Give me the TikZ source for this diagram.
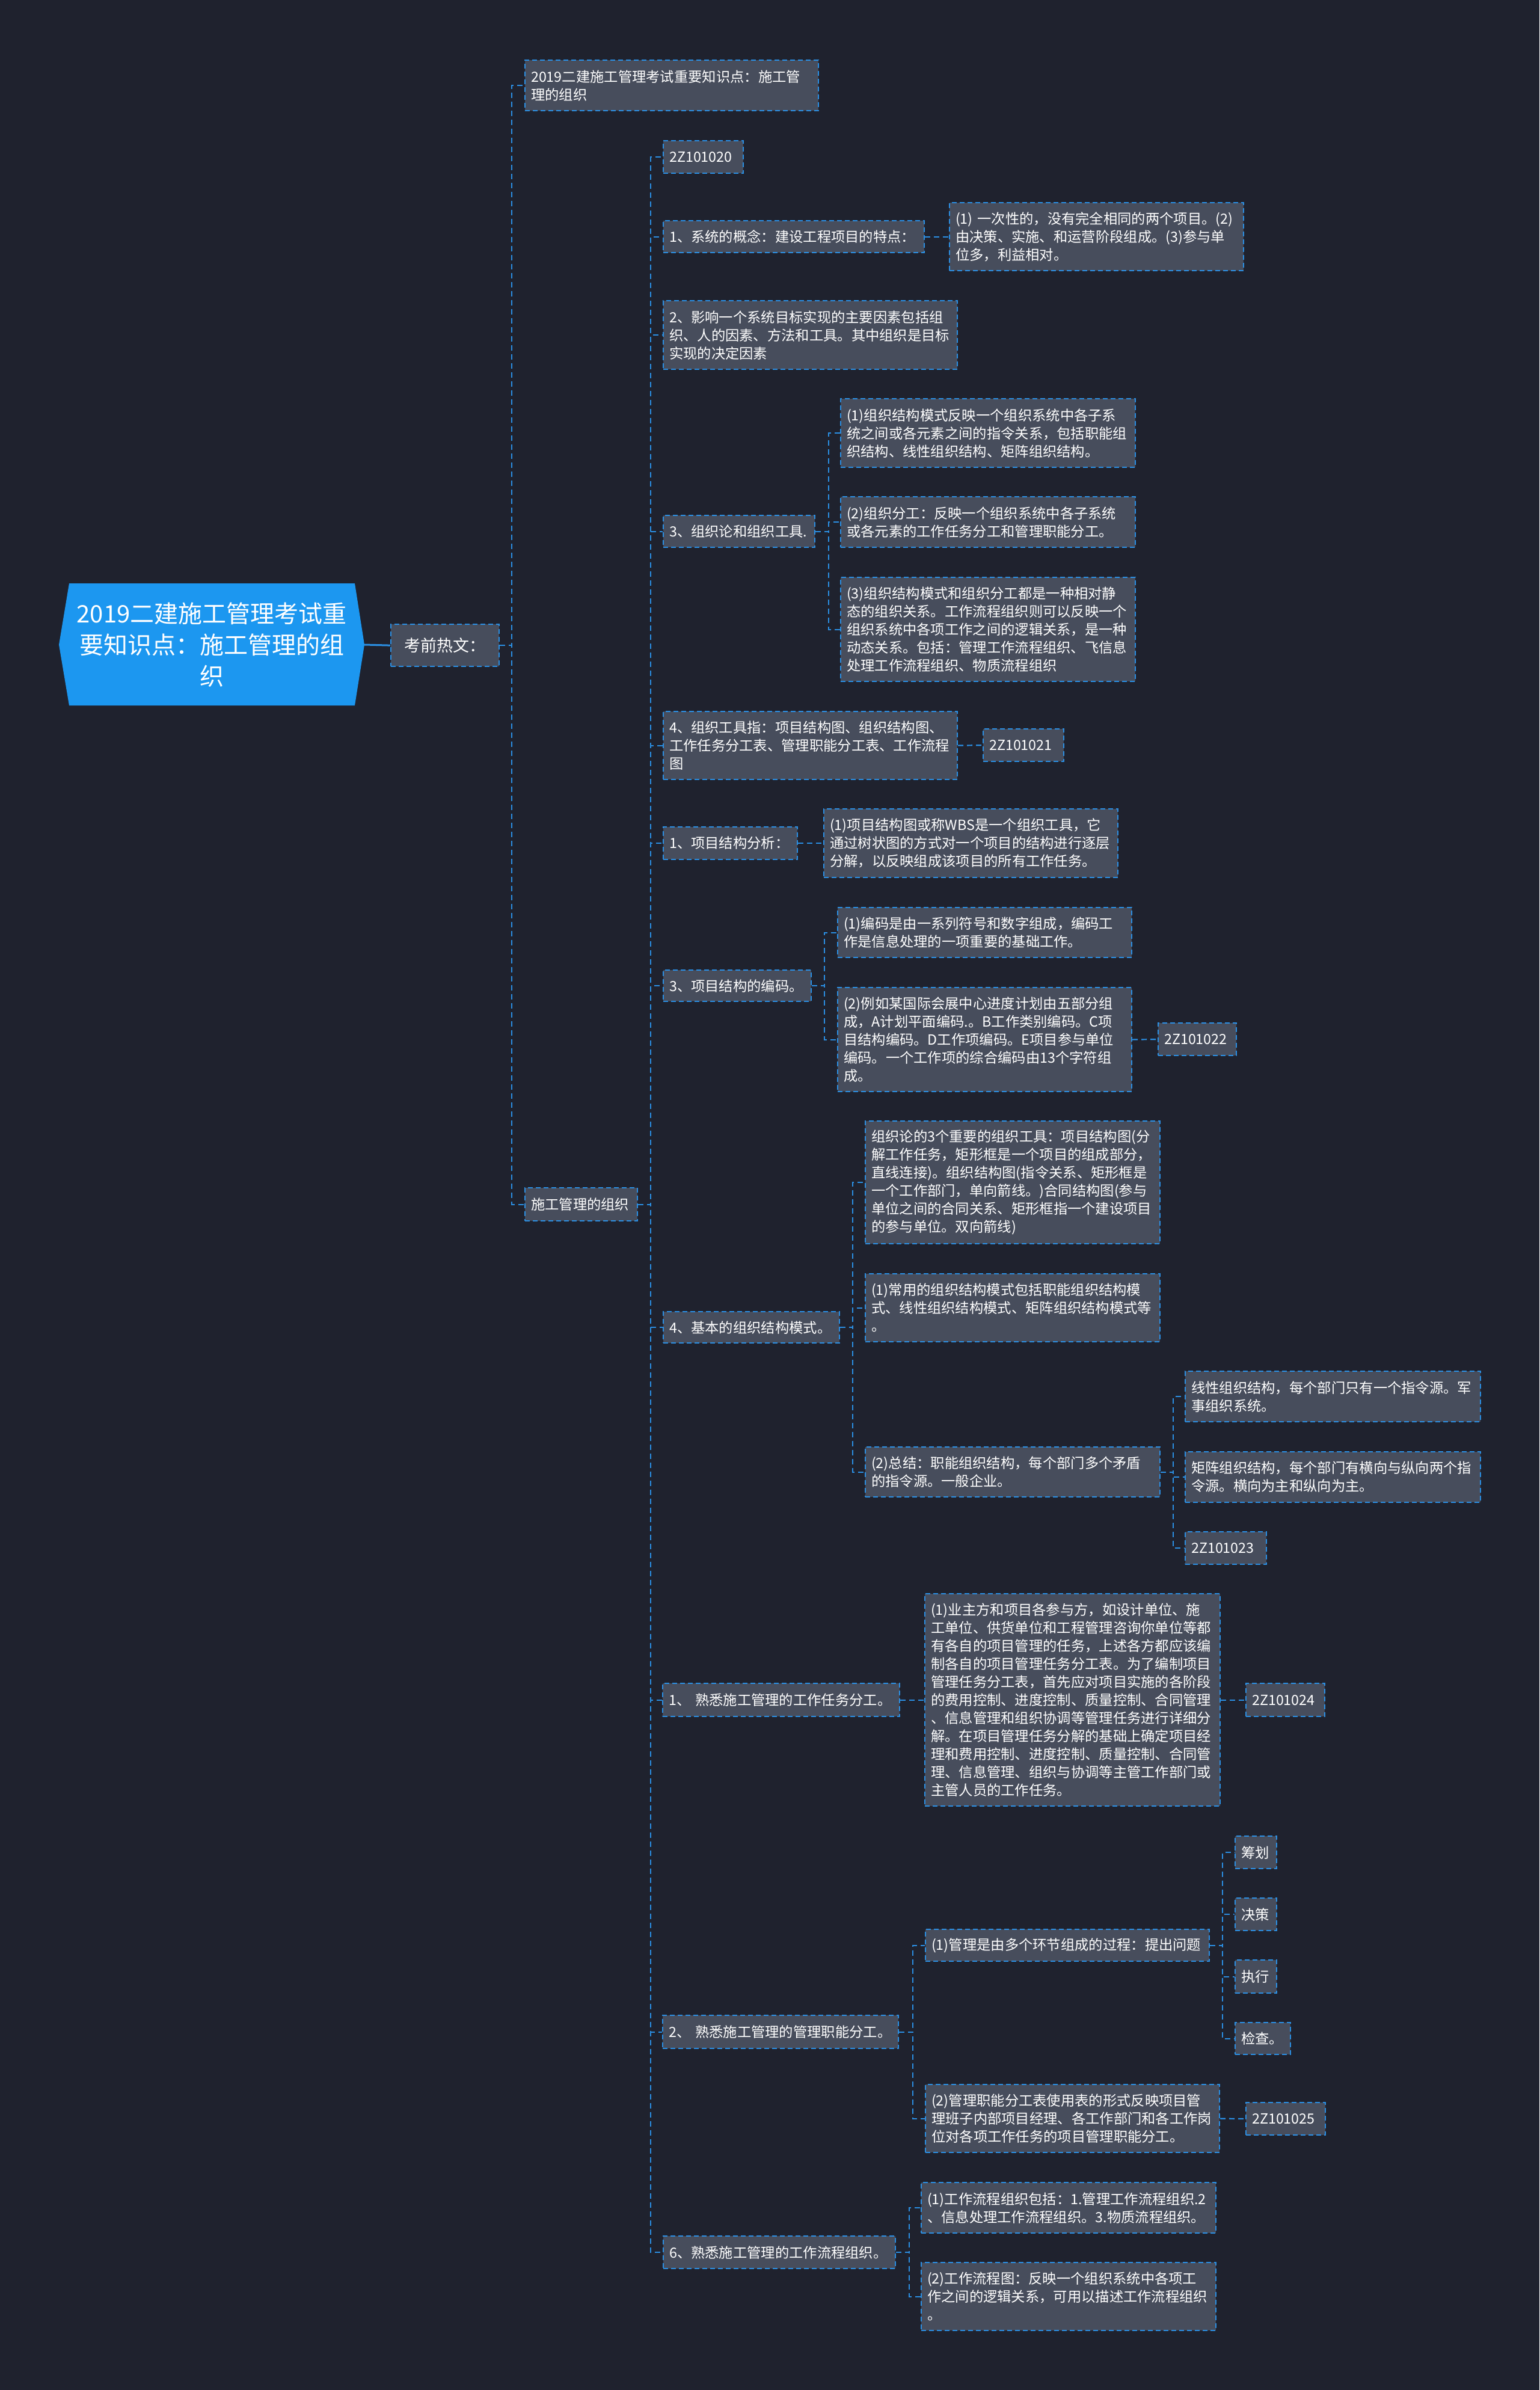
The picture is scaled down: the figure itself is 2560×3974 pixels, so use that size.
\documentclass[tikz,border=0pt]{standalone}
\usepackage{fontspec}
\setmainfont{Noto Sans CJK SC}
\definecolor{bg}{HTML}{1F222E}
\definecolor{boxfill}{HTML}{474D5C}
\definecolor{lineblue}{HTML}{2B8FE3}
\definecolor{rootblue}{HTML}{1C97F0}
\tikzset{
  box/.style={fill=boxfill, draw=lineblue, line width=2.2pt, dash pattern=on 8pt off 5pt,
    text=white, font=\fontsize{23.3}{30}\selectfont, align=left, inner xsep=10pt, inner ysep=3pt},
  conn/.style={draw=lineblue, line width=2.2pt, dash pattern=on 9pt off 6pt},
  rootconn/.style={draw=lineblue, line width=3pt},
}
\newcommand\mkbox[7][]{%
  \pgfmathsetmacro\mkbW{#5-#3}%
  \pgfmathsetmacro\mkbH{#6-#4}%
  \pgfmathsetmacro\mkbT{#5-#3-20}%
  \node[box,anchor=north west,minimum width=\mkbW pt,minimum height=\mkbH pt,text width=\mkbT pt,#1] (#2) at (#3pt,-#4pt) {#7};%
}
\begin{document}
\begin{tikzpicture}
\fill[bg] (0,0) rectangle (2560pt,-3974pt);
\useasboundingbox (0,0) rectangle (2560pt,-3974pt);
% root
\fill[rootblue] (115pt,-970pt) -- (590pt,-970pt) -- (606pt,-1072pt) -- (590pt,-1173pt) -- (115pt,-1173pt) -- (98pt,-1072pt) -- cycle;
\node[text=white, font=\fontsize{40}{52}\selectfont, align=center] (root) at (352pt,-1072pt) {2019二建施工管理考试重\\要知识点：施工管理的组\\织};
\coordinate (rootE) at (606pt,-1072pt);

\mkbox[font=\fontsize{27}{34}\selectfont,align=center]{kq}{649}{1037}{829}{1107}{考前热文：}
\mkbox{ttl}{872}{99}{1360}{183}{2019二建施工管理考试重要知识点：施工管\\理的组织}
\mkbox{sg}{872}{1974}{1059}{2029}{施工管理的组织}

\mkbox{a1}{1102}{233}{1235}{287}{2Z101020}
\mkbox{a2}{1102}{366}{1536}{419}{1、系统的概念：建设工程项目的特点：}
\mkbox{a2c}{1578}{336}{2067}{449}{(1)~一次性的，没有完全相同的两个项目。(2)\\由决策、实施、和运营阶段组成。(3)参与单\\位多，利益相对。}
\mkbox{a3}{1102}{499}{1591}{613}{2、影响一个系统目标实现的主要因素包括组\\织、人的因素、方法和工具。其中组织是目标\\实现的决定因素}
\mkbox{a4}{1102}{856}{1354}{909}{3、组织论和组织工具.}
\mkbox{a4c1}{1397}{662}{1887}{776}{(1)组织结构模式反映一个组织系统中各子系\\统之间或各元素之间的指令关系，包括职能组\\织结构、线性组织结构、矩阵组织结构。}
\mkbox{a4c2}{1397}{825}{1887}{909}{(2)组织分工：反映一个组织系统中各子系统\\或各元素的工作任务分工和管理职能分工。}
\mkbox{a4c3}{1397}{959}{1887}{1132}{(3)组织结构模式和组织分工都是一种相对静\\态的组织关系。工作流程组织则可以反映一个\\组织系统中各项工作之间的逻辑关系，是一种\\动态关系。包括：管理工作流程组织、飞信息\\处理工作流程组织、物质流程组织}
\mkbox{a5}{1102}{1182}{1591}{1295}{4、组织工具指：项目结构图、组织结构图、\\工作任务分工表、管理职能分工表、工作流程\\图}
\mkbox{a5c}{1634}{1211}{1768}{1265}{2Z101021}
\mkbox{a6}{1102}{1374}{1325}{1428}{1、项目结构分析：}
\mkbox{a6c}{1369}{1344}{1858}{1458}{(1)项目结构图或称WBS是一个组织工具，它\\通过树状图的方式对一个项目的结构进行逐层\\分解，以反映组成该项目的所有工作任务。}
\mkbox{a7}{1102}{1612}{1348}{1664}{3、项目结构的编码。}
\mkbox{a7c1}{1392}{1508}{1881}{1591}{(1)编码是由一系列符号和数字组成，编码工\\作是信息处理的一项重要的基础工作。}
\mkbox{a7c2}{1392}{1641}{1881}{1814}{(2)例如某国际会展中心进度计划由五部分组\\成，A计划平面编码.。B工作类别编码。C项\\目结构编码。D工作项编码。E项目参与单位\\编码。一个工作项的综合编码由13个字符组\\成。}
\mkbox{a7c2c}{1925}{1700}{2055}{1754}{2Z101022}
\mkbox{a8}{1102}{2180}{1395}{2232}{4、基本的组织结构模式。}
\mkbox{a8c1}{1438}{1863}{1928}{2067}{组织论的3个重要的组织工具：项目结构图(分\\解工作任务，矩形框是一个项目的组成部分，\\直线连接)。组织结构图(指令关系、矩形框是\\一个工作部门，单向箭线。)合同结构图(参与\\单位之间的合同关系、矩形框指一个建设项目\\的参与单位。双向箭线)}
\mkbox{a8c2}{1438}{2117}{1928}{2230}{(1)常用的组织结构模式包括职能组织结构模\\式、线性组织结构模式、矩阵组织结构模式等\\。}
\mkbox{a8c3}{1438}{2405}{1928}{2488}{(2)总结：职能组织结构，每个部门多个矛盾\\的指令源。一般企业。}
\mkbox{b1}{1970}{2279}{2461}{2363}{线性组织结构，每个部门只有一个指令源。军\\事组织系统。}
\mkbox{b2}{1970}{2413}{2461}{2497}{矩阵组织结构，每个部门有横向与纵向两个指\\令源。横向为主和纵向为主。}
\mkbox{b3}{1970}{2546}{2105}{2600}{2Z101023}
\mkbox{a9}{1101}{2798}{1495}{2853}{1、~熟悉施工管理的工作任务分工。}
\mkbox{a9c}{1537}{2649}{2028}{3002}{(1)业主方和项目各参与方，如设计单位、施\\工单位、供货单位和工程管理咨询你单位等都\\有各自的项目管理的任务，上述各方都应该编\\制各自的项目管理任务分工表。为了编制项目\\管理任务分工表，首先应对项目实施的各阶段\\的费用控制、进度控制、质量控制、合同管理\\、信息管理和组织协调等管理任务进行详细分\\解。在项目管理任务分解的基础上确定项目经\\理和费用控制、进度控制、质量控制、合同管\\理、信息管理、组织与协调等主管工作部门或\\主管人员的工作任务。}
\mkbox{a9cc}{2071}{2798}{2202}{2853}{2Z101024}
\mkbox{a10}{1101}{3350}{1493}{3405}{2、~熟悉施工管理的管理职能分工。}
\mkbox{a10c1}{1538}{3207}{2010}{3260}{(1)管理是由多个环节组成的过程：提出问题}
\mkbox{c1}{2053}{3052}{2122}{3106}{筹划}
\mkbox{c2}{2053}{3155}{2122}{3209}{决策}
\mkbox{c3}{2053}{3258}{2122}{3313}{执行}
\mkbox{c4}{2053}{3362}{2145}{3415}{检查。}
\mkbox{a10c2}{1538}{3465}{2027}{3578}{(2)管理职能分工表使用表的形式反映项目管\\理班子内部项目经理、各工作部门和各工作岗\\位对各项工作任务的项目管理职能分工。}
\mkbox{a10c2c}{2071}{3495}{2203}{3549}{2Z101025}
\mkbox{a11}{1102}{3717}{1488}{3771}{6、熟悉施工管理的工作流程组织。}
\mkbox{a11c1}{1531}{3628}{2021}{3712}{(1)工作流程组织包括：1.管理工作流程组织.2\\、信息处理工作流程组织。3.物质流程组织。}
\mkbox{a11c2}{1531}{3761}{2021}{3874}{(2)工作流程图：反映一个组织系统中各项工\\作之间的逻辑关系，可用以描述工作流程组织\\。}

% connectors
\draw[rootconn] (rootE) -- (kq.west);
\foreach \c in {ttl,sg} \draw[conn] (kq.east) -- ++(20pt,0) |- (\c.west);
\foreach \c in {a1,a2,a3,a4,a5,a6,a7,a8,a9,a10,a11} \draw[conn] (sg.east) -- ++(21pt,0) |- (\c.west);
\draw[conn] (a2.east) -- (a2c.west);
\foreach \c in {a4c1,a4c2,a4c3} \draw[conn] (a4.east) -- ++(22pt,0) |- (\c.west);
\draw[conn] (a5.east) -- (a5c.west);
\draw[conn] (a6.east) -- (a6c.west);
\foreach \c in {a7c1,a7c2} \draw[conn] (a7.east) -- ++(21pt,0) |- (\c.west);
\draw[conn] (a7c2.east) -- (a7c2c.west);
\foreach \c in {a8c1,a8c2,a8c3} \draw[conn] (a8.east) -- ++(21pt,0) |- (\c.west);
\foreach \c in {b1,b2,b3} \draw[conn] (a8c3.east) -- ++(21pt,0) |- (\c.west);
\draw[conn] (a9.east) -- (a9c.west);
\draw[conn] (a9c.east) -- (a9cc.west);
\foreach \c in {a10c1,a10c2} \draw[conn] (a10.east) -- ++(23pt,0) |- (\c.west);
\foreach \c in {c1,c2,c3,c4} \draw[conn] (a10c1.east) -- ++(21pt,0) |- (\c.west);
\draw[conn] (a10c2.east) -- (a10c2c.west);
\foreach \c in {a11c1,a11c2} \draw[conn] (a11.east) -- ++(22pt,0) |- (\c.west);
\end{tikzpicture}
\end{document}
